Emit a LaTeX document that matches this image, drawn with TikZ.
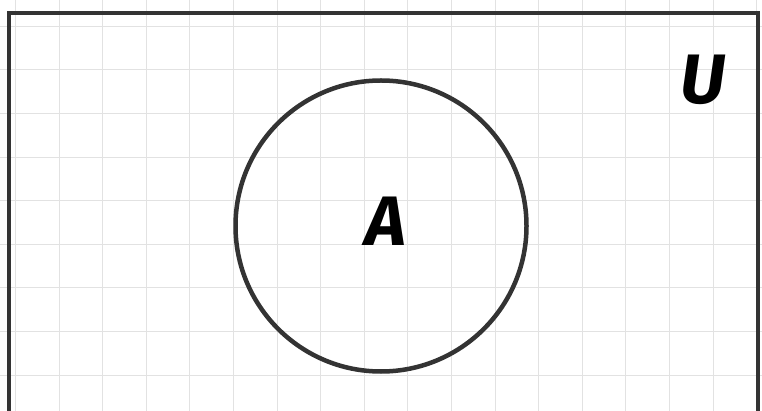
\documentclass[tikz,border=0pt]{standalone}
\usepackage{fontspec}
\newfontfamily\handfont{Fira Sans}
\definecolor{gridc}{HTML}{E2E2E2}
\definecolor{inkc}{HTML}{333333}
\tikzset{
  gridline/.style={draw=gridc, line width=1pt},
  frame/.style={draw=inkc, line width=4pt},
  setcircle/.style={draw=inkc, line width=4.5pt, circle, minimum size=291pt, inner sep=0pt},
  label/.style={font=\handfont\bfseries\itshape\fontsize{70}{70}\selectfont, text=black, inner sep=0pt}
}
\begin{document}
\begin{tikzpicture}[x=1pt, y=-1pt]
\useasboundingbox (0,0) rectangle (762,411);
\fill[white] (0,0) rectangle (762,411);
\foreach \i in {0,...,17} {
  \draw[gridline] (15.4+43.6*\i,0) -- (15.4+43.6*\i,411);
}
\foreach \j in {0,...,9} {
  \draw[gridline] (0,26.3+43.6*\j) -- (762,26.3+43.6*\j);
}
\coordinate (bl) at (9,420);
\coordinate (tl) at (9,13);
\coordinate (tr) at (758,13);
\coordinate (br) at (758,420);
\draw[frame] (bl) -- (tl) -- (tr) -- (br);
\node[setcircle] (A) at (381,226) {};
\node[label] (la) at (386,221) {A};
\node[label] (lu) at (703,80) {U};
\end{tikzpicture}
\end{document}
